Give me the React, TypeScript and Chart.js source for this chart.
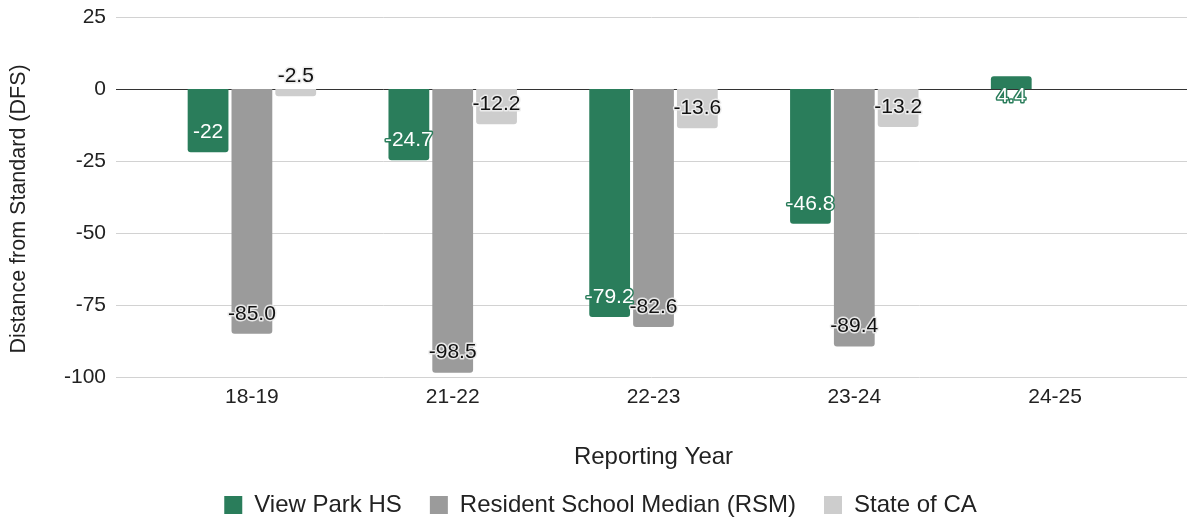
import React, { useEffect, useRef } from "react";
import { Chart, registerables } from "chart.js";

Chart.register(...registerables);

const categories = ["18-19", "21-22", "22-23", "23-24", "24-25"];
const viewParkHS: (number | null)[] = [-22, -24.7, -79.2, -46.8, 4.4];
const residentMedian: (number | null)[] = [-85.0, -98.5, -82.6, -89.4, null];
const stateOfCA: (number | null)[] = [-2.5, -12.2, -13.6, -13.2, null];
const seriesNames = ["View Park HS", "Resident School Median (RSM)", "State of CA"];
const yMin = -100;
const yMax = 25;
const yStep = 25;

const FAMILY = '"Liberation Sans", Arial, Helvetica, sans-serif';
const GREEN = "#2a7d5b";
const GRAY = "#9b9b9b";
const LIGHT = "#cdcdcd";

const PAD_LEFT = 45.5;
const PAD_RIGHT = 31.5;
const AXIS_LEFT_EDGE = 151.5;

const labelFormat = [
  (v: number) => String(v),
  (v: number) => v.toFixed(1),
  (v: number) => String(v),
];
const labelStyle = [
  { fill: "#ffffff", stroke: GREEN },
  { fill: "#111111", stroke: "rgba(236,236,236,0.95)" },
  { fill: "#111111", stroke: "rgba(236,236,236,0.95)" },
];

const gridPlugin = {
  id: "extGrid",
  beforeDatasetsDraw(chart: any) {
    const { ctx, chartArea, scales } = chart;
    const y = scales.y;
    ctx.save();
    ctx.lineWidth = 1;
    y.ticks.forEach((t: any) => {
      const py = Math.round(y.getPixelForValue(t.value)) + 0.5;
      ctx.strokeStyle = t.value === 0 ? "#333333" : "#d2d2d2";
      ctx.beginPath();
      ctx.moveTo(chartArea.left - 35.5, py);
      ctx.lineTo(chart.width, py);
      ctx.stroke();
    });
    ctx.restore();
  },
};

const labelPlugin = {
  id: "barLabels",
  afterDatasetsDraw(chart: any) {
    const ctx = chart.ctx;
    ctx.save();
    ctx.font = `21px ${FAMILY}`;
    ctx.textAlign = "center";
    ctx.textBaseline = "middle";
    ctx.lineJoin = "round";
    chart.data.datasets.forEach((ds: any, di: number) => {
      const meta = chart.getDatasetMeta(di);
      meta.data.forEach((el: any, i: number) => {
        const v = ds.data[i];
        if (v === null || v === undefined) return;
        const { x, y, base } = el.getProps(["x", "y", "base"], true);
        const dir = base >= y ? 1 : -1;
        const ly = y + dir * 20;
        const txt = labelFormat[di](v);
        ctx.lineWidth = 3;
        ctx.strokeStyle = labelStyle[di].stroke;
        ctx.strokeText(txt, x, ly);
        ctx.fillStyle = labelStyle[di].fill;
        ctx.fillText(txt, x, ly);
      });
    });
    ctx.restore();
  },
};

export default function App() {
  const ref = useRef<HTMLCanvasElement | null>(null);

  useEffect(() => {
    document.body.style.margin = "0";
    const canvas = ref.current;
    if (!canvas) return;
    const common = {
      categoryPercentage: 0.655,
      barPercentage: 0.93,
      borderRadius: 3,
      borderWidth: 0,
    };
    const chart = new Chart(canvas, {
      type: "bar",
      data: {
        labels: categories,
        datasets: [
          { label: seriesNames[0], data: viewParkHS, backgroundColor: GREEN, ...common },
          { label: seriesNames[1], data: residentMedian, backgroundColor: GRAY, ...common },
          { label: seriesNames[2], data: stateOfCA, backgroundColor: LIGHT, ...common },
        ],
      },
      options: {
        animation: false,
        responsive: false,
        layout: { padding: { left: PAD_LEFT, right: PAD_RIGHT, top: 17, bottom: -9 } },
        plugins: {
          legend: {
            position: "bottom",
            labels: {
              boxWidth: 18,
              boxHeight: 18,
              padding: 28,
              color: "#222222",
              font: { size: 24, family: FAMILY },
            },
          },
          tooltip: { enabled: false },
        },
        scales: {
          x: {
            grid: { display: false, drawTicks: false },
            border: { display: false },
            ticks: { padding: 8, color: "#222222", font: { size: 21, family: FAMILY } },
            title: {
              display: true,
              text: "Reporting Year",
              color: "#222222",
              font: { size: 24, family: FAMILY },
              padding: { top: 0, bottom: -6.4 },
            },
            afterFit(s: any) {
              s.height = 88;
            },
          },
          y: {
            min: yMin,
            max: yMax,
            grid: { display: false, drawTicks: false },
            border: { display: false },
            ticks: {
              stepSize: yStep,
              padding: 45.5,
              color: "#222222",
              font: { size: 21, family: FAMILY },
            },
            title: {
              display: true,
              text: "Distance from Standard (DFS)    ",
              color: "#222222",
              font: { size: 21.5, family: FAMILY },
              padding: { top: 6 - PAD_LEFT, bottom: 0 },
            },
            afterFit(s: any) {
              s.width = AXIS_LEFT_EDGE - PAD_LEFT;
              s.paddingTop = 0;
              s.paddingBottom = 0;
            },
          },
        },
      } as any,
      plugins: [gridPlugin, labelPlugin],
    });
    return () => chart.destroy();
  }, []);

  return <canvas ref={ref} width={1187} height={518} style={{ display: "block" }} />;
}
